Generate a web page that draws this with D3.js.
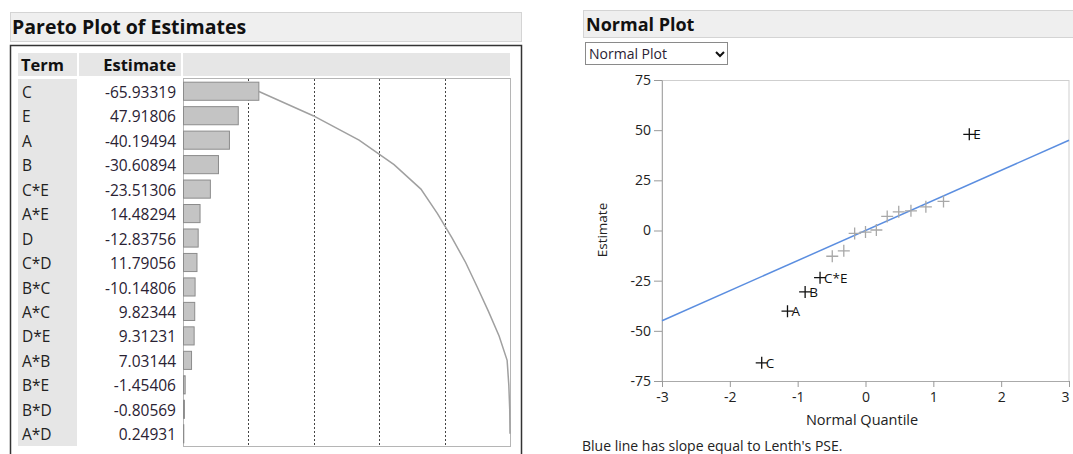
<!DOCTYPE html>
<html>
<head>
<meta charset="utf-8">
<script src="https://cdn.jsdelivr.net/npm/d3@7"></script>
<style>
  body { margin: 0; background: #fff; }
  svg { display: block; font-family: "Open Sans", "Noto Sans", sans-serif; }
</style>
</head>
<body>
<div id="chart"></div>
<script>
// terms in pareto order and their estimates
var terms = ["C", "E", "A", "B", "C*E", "A*E", "D", "C*D", "B*C", "A*C", "D*E", "A*B", "B*E", "B*D", "A*D"];
var estimates = [-65.93319, 47.91806, -40.19494, -30.60894, -23.51306, 14.48294, -12.83756, 11.79056,
                 -10.14806, 9.82344, 9.31231, 7.03144, -1.45406, -0.80569, 0.24931];

// normal plot: terms sorted by estimate with the quantiles
var npTerms = ["C", "A", "B", "C*E", "D", "B*C", "B*E", "B*D", "A*D", "A*B", "D*E", "A*C", "C*D", "A*E", "E"];
var npQuantiles = [-1.53, -1.15, -0.89, -0.67, -0.49, -0.32, -0.16, 0, 0.16, 0.32, 0.49, 0.67, 0.89, 1.15, 1.53];
var labelled = ["C", "A", "B", "C*E", "E"];

var yTicks = [-75, -50, -25, 0, 25, 50, 75];
var xTicks = [-3, -2, -1, 0, 1, 2, 3];
var lenthPSE = 15;

var svg = d3.select("#chart").append("svg").attr("width", 1073).attr("height", 454);

//---------------- Pareto plot ----------------
var left = svg.append("g");

left.append("rect").attr("x", 10.5).attr("y", 12.5).attr("width", 511).attr("height", 29)
    .attr("fill", "#efefef").attr("stroke", "#d4d4d4");
left.append("text").attr("x", 12).attr("y", 34).attr("font-size", 19.5).attr("font-weight", "bold")
    .attr("fill", "#111").text("Pareto Plot of Estimates");

// outer box
left.append("rect").attr("x", 10.5).attr("y", 45.5).attr("width", 511).attr("height", 420)
    .attr("fill", "none").attr("stroke", "#333").attr("stroke-width", 1.5);

var plotLeft = 183, plotRight = 510, plotTop = 78, plotBottom = 446;

var y = d3.scaleBand().domain(terms).range([79, 446]).paddingInner(0.26).paddingOuter(0.13);
var x = d3.scaleLinear().domain([0, 100]).range([plotLeft, plotRight]);

// header cells
left.append("rect").attr("x", 18).attr("y", 53).attr("width", 59).attr("height", 23).attr("fill", "#e6e6e6");
left.append("rect").attr("x", 79).attr("y", 53).attr("width", 102).attr("height", 23).attr("fill", "#e6e6e6");
left.append("rect").attr("x", plotLeft).attr("y", 53).attr("width", plotRight - plotLeft).attr("height", 23).attr("fill", "#e6e6e6");
left.append("text").attr("x", 21).attr("y", 71).attr("font-size", 16.5).attr("font-weight", "bold").attr("fill", "#111").text("Term");
left.append("text").attr("x", 176).attr("y", 71).attr("font-size", 16.5).attr("font-weight", "bold").attr("fill", "#111")
    .attr("text-anchor", "end").text("Estimate");

// term column background
left.append("rect").attr("x", 18).attr("y", 79).attr("width", 59).attr("height", 367).attr("fill", "#e6e6e6");

var rowMid = function (t) { return y(t) + y.bandwidth() / 2; };

left.selectAll(".term").data(terms).enter().append("text")
    .attr("x", 22).attr("y", function (d) { return rowMid(d) + 1; }).attr("dy", "0.36em")
    .attr("font-size", 15.5).attr("fill", "#222").text(function (d) { return d; });

left.selectAll(".est").data(estimates).enter().append("text")
    .attr("x", 176).attr("y", function (d, i) { return rowMid(terms[i]) + 1; }).attr("dy", "0.36em")
    .attr("text-anchor", "end").attr("font-size", 15.5).attr("fill", "#2a2233")
    .text(function (d) { return d.toFixed(5); });

// plot frame
left.append("rect").attr("x", plotLeft + 0.5).attr("y", plotTop + 0.5).attr("width", plotRight - plotLeft)
    .attr("height", plotBottom - plotTop).attr("fill", "#fff").attr("stroke", "#b5b5b5");

// dotted grid at 20% steps
left.selectAll(".grid").data([20, 40, 60, 80]).enter().append("line")
    .attr("x1", function (d) { return Math.round(x(d)) + 0.5; })
    .attr("x2", function (d) { return Math.round(x(d)) + 0.5; })
    .attr("y1", plotTop + 1).attr("y2", plotBottom)
    .attr("stroke", "#444").attr("stroke-dasharray", "2,2");

var total = d3.sum(estimates, function (d) { return Math.abs(d); });

left.selectAll(".bar").data(estimates).enter().append("rect")
    .attr("x", plotLeft + 0.5)
    .attr("y", function (d, i) { return y(terms[i]); })
    .attr("width", function (d) { return x(Math.abs(d) / total * 100) - plotLeft; })
    .attr("height", y.bandwidth())
    .attr("fill", "#c4c4c4").attr("stroke", "#8c8c8c");

var cum = 0;
var cumPts = estimates.map(function (d, i) {
    cum += Math.abs(d);
    return [x(cum / total * 100), rowMid(terms[i])];
});
left.append("path").attr("d", d3.line()(cumPts)).attr("fill", "none")
    .attr("stroke", "#a0a0a0").attr("stroke-width", 1.5);

//---------------- Normal plot ----------------
var right = svg.append("g");

right.append("rect").attr("x", 583.5).attr("y", 10.5).attr("width", 495).attr("height", 27)
    .attr("fill", "#efefef").attr("stroke", "#d4d4d4");
right.append("text").attr("x", 586).attr("y", 31).attr("font-size", 18).attr("font-weight", "bold")
    .attr("fill", "#111").text("Normal Plot");

// dropdown
right.append("rect").attr("x", 585.5).attr("y", 42.5).attr("width", 142).attr("height", 22)
    .attr("fill", "#fff").attr("stroke", "#8a8a8a");
right.append("text").attr("x", 589).attr("y", 58.5).attr("font-size", 14).attr("fill", "#2a2233").text("Normal Plot");
right.append("path").attr("d", "M716,52 L720,56 L724,52").attr("fill", "none")
    .attr("stroke", "#111").attr("stroke-width", 2);

var nx = d3.scaleLinear().domain([-3, 3]).range([662, 1069]);
var ny = d3.scaleLinear().domain([-75, 75]).range([381, 80]);

right.append("rect").attr("x", 662).attr("y", 80.5).attr("width", 407).attr("height", 301)
    .attr("fill", "#fff").attr("stroke", "#cfcfcf");

var fmt = function (d) { return String(d); };
var yAxis = right.append("g").attr("transform", "translate(662,0)")
    .call(d3.axisLeft(ny).tickValues(yTicks).tickFormat(fmt).tickSize(8).tickPadding(3));
var xAxis = right.append("g").attr("transform", "translate(0,381)")
    .call(d3.axisBottom(nx).tickValues(xTicks).tickFormat(fmt).tickSize(6).tickPadding(5));
[yAxis, xAxis].forEach(function (a) {
    a.selectAll("path").attr("stroke", "#aaa");
    a.selectAll("line").attr("stroke", "#999");
    a.selectAll("text").attr("font-size", 14).attr("fill", "#222")
        .attr("font-family", "\"Open Sans\", \"Noto Sans\", sans-serif");
});
// keep the last x label inside the window
xAxis.selectAll(".tick").filter(function (d) { return d === 3; }).select("text").attr("dx", -4);

right.append("text").attr("transform", "translate(607,230) rotate(-90)").attr("text-anchor", "middle")
    .attr("font-size", 13.5).attr("fill", "#222").text("Estimate");
right.append("text").attr("x", 862).attr("y", 425).attr("text-anchor", "middle")
    .attr("font-size", 14.5).attr("fill", "#222").text("Normal Quantile");

// Lenth line
right.append("line").attr("x1", nx(-3)).attr("y1", ny(-3 * lenthPSE))
    .attr("x2", nx(3)).attr("y2", ny(3 * lenthPSE))
    .attr("stroke", "#5b8ee0").attr("stroke-width", 1.5);

var estOf = function (t) { return estimates[terms.indexOf(t)]; };

var pts = right.selectAll(".pt").data(npTerms).enter().append("g")
    .attr("transform", function (d, i) { return "translate(" + nx(npQuantiles[i]) + "," + ny(estOf(d)) + ")"; });
pts.append("path").attr("d", "M-6,0 L6,0 M0,-6 L0,6").attr("fill", "none")
    .attr("stroke", function (d) { return labelled.indexOf(d) >= 0 ? "#111" : "#a8a8a8"; })
    .attr("stroke-width", 1.3);
pts.filter(function (d) { return labelled.indexOf(d) >= 0; }).append("text")
    .attr("x", 4).attr("dy", "0.36em").attr("font-size", 13.5).attr("fill", "#111")
    .text(function (d) { return d; });

right.append("text").attr("x", 582).attr("y", 451).attr("font-size", 14).attr("fill", "#222")
    .text("Blue line has slope equal to Lenth's PSE.");
</script>
</body>
</html>
